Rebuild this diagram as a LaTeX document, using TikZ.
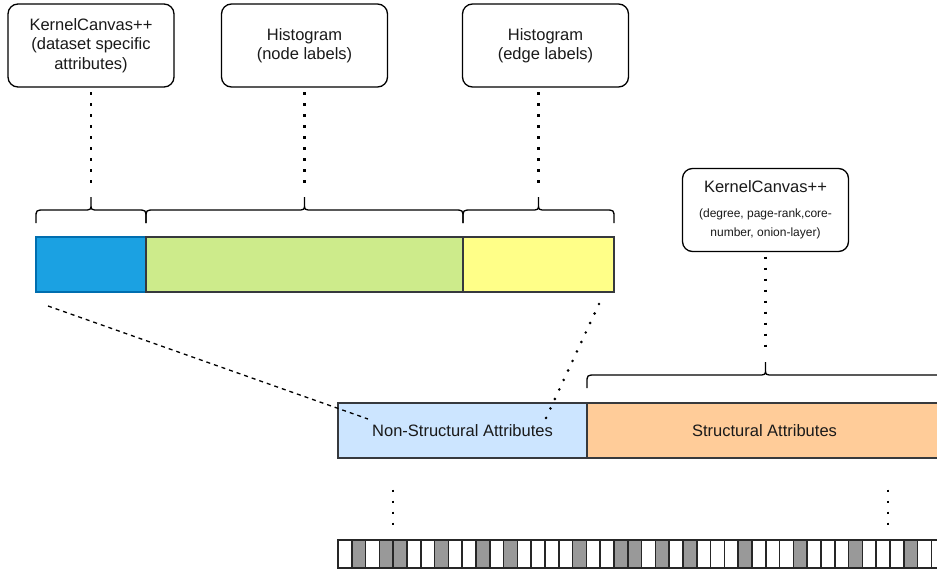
\documentclass[tikz,border=0pt]{standalone}
\usepackage{fontspec}
\setmainfont{Liberation Sans}
\definecolor{segline}{HTML}{36393D}
\definecolor{attrblue}{HTML}{1BA1E2}
\definecolor{attrblueline}{HTML}{006EAF}
\definecolor{attrgreen}{HTML}{CDEB8B}
\definecolor{attryellow}{HTML}{FFFF88}
\definecolor{nsblue}{HTML}{CCE5FF}
\definecolor{storange}{HTML}{FFCC99}
\definecolor{cellgray}{HTML}{999999}
\definecolor{txt}{HTML}{1A1A1A}

% curly bracket opening downwards: left x, right x, tip x, end y, tip name
\newcommand{\curlybr}[5]{%
  \draw[bracket] (#1,#4) -- ({#1},{#4-5}) .. controls ({#1},{#4-13}) .. ({#1+9},{#4-13})
    -- ({#3-8},{#4-13}) .. controls ({#3},{#4-13}) .. ({#3},{#4-19}) -- ({#3},{#4-26})
    -- ({#3},{#4-19}) .. controls ({#3},{#4-13}) .. ({#3+8},{#4-13})
    -- ({#2-9},{#4-13}) .. controls ({#2},{#4-13}) .. ({#2},{#4-5}) -- (#2,#4);
  \coordinate (#5) at ({#3},{#4-26});
}

\begin{document}
\begin{tikzpicture}[x=1pt,y=-1pt,
  every node/.style={inner sep=0pt, outer sep=0pt},
  callout/.style={draw=black, line width=1.3pt, rounded corners=10pt, fill=white,
    minimum width=166pt, minimum height=83pt, align=center, text=txt,
    font=\fontsize{16.5}{19.5}\selectfont},
  seg/.style={draw=segline, line width=1.2pt, anchor=north west, minimum height=55pt,
    text=txt, font=\fontsize{16.5}{19.5}\selectfont},
  dotsq/.style={line width=2.8pt, dash pattern=on 2.8pt off 8.2pt},
  dotrd/.style={line width=2.9pt, line cap=round, dash pattern=on 0pt off 10.47pt},
  dashln/.style={line width=1.3pt, dash pattern=on 4pt off 4pt},
  bracket/.style={line width=1.3pt},
  cellbox/.style={draw=black!85, line width=1.5pt},
]
\clip (0,0) rectangle (937,570);
\fill[white] (0,0) rectangle (937,570);

% callouts
\node[callout] (kcA) at (91,45.5) {KernelCanvas++\\(dataset specific\\attributes)};
\node[callout] (hN) at (304.5,45.5) {Histogram\\(node labels)};
\node[callout] (hE) at (545.5,45.5) {Histogram\\(edge labels)};
\node[callout] (kcB) at (765.5,210) {KernelCanvas++\\[5pt]{\fontsize{12}{19}\selectfont (degree, page-rank,core-}\\{\fontsize{12}{19}\selectfont number, onion-layer)}};

% brackets
\curlybr{36}{146}{91}{223}{brA}
\curlybr{146}{463}{304.5}{223}{brB}
\curlybr{463}{614}{538.5}{223}{brC}
\curlybr{587}{945}{765.5}{388}{brD}

% dotted leaders from callouts to brackets
\draw[dotsq, shorten <=5pt, shorten >=12pt] (kcA.south) -- (brA);
\draw[dotsq, shorten <=5pt, shorten >=12pt] (hN.south) -- (brB);
\draw[dotsq, shorten <=5pt, shorten >=12pt] (brC |- hE.south) -- (brC);
\draw[dotsq, shorten <=5pt, shorten >=14pt] (kcB.south) -- (brD);

% non-structural attribute vector
\node[seg, fill=attrblue, draw=attrblueline, minimum width=110pt] (vA) at (36,237) {};
\node[seg, fill=attrgreen, minimum width=317pt] (vB) at (146,237) {};
\node[seg, fill=attryellow, minimum width=151pt] (vC) at (463,237) {};

% combined attribute vector
\node[seg, fill=nsblue, minimum width=249pt] (ns) at (338,403) {Non-Structural Attributes};
\node[seg, fill=storange, minimum width=355pt] (st) at (587,403) {Structural Attributes};

% zoom lines
\coordinate (dashA) at (48,306);
\coordinate (dashB) at (368,419);
\coordinate (dotA) at (599,304);
\coordinate (dotB) at (546,418);
\draw[dashln] (dashA) -- (dashB);
\draw[dotrd] (dotA) -- (dotB);

% ellipsis dots
\draw[dotsq] (393,489.6) -- (393,526);
\draw[dotsq] (888,489.6) -- (888,526);

% bit strip
\foreach \i in {1,...,44}
  \fill[white] ({338+(\i-1)*13.8},540) rectangle ++(13.8,28);
\foreach \i in {2,4,5,8,11,13,18,21,22,24,26,30,34,38,42}
  \fill[cellgray] ({338+(\i-1)*13.8},540) rectangle ++(13.8,28);
\foreach \i in {1,...,44}
  \draw[cellbox] ({338+(\i-1)*13.8},540) rectangle ++(13.8,28);
\end{tikzpicture}
\end{document}
